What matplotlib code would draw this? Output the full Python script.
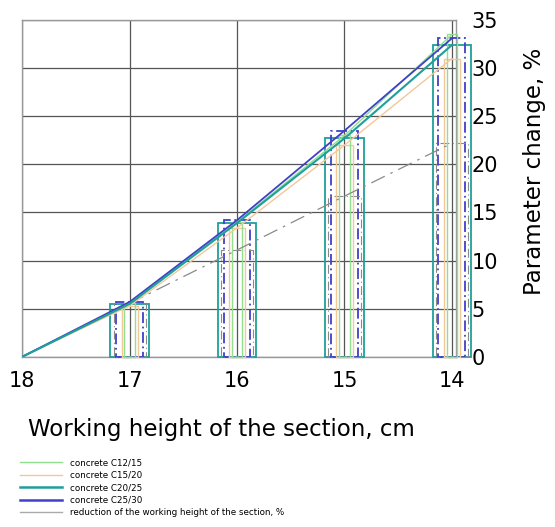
import matplotlib.pyplot as plt
from matplotlib.lines import Line2D

heights = [18, 17, 16, 15, 14]
bar_heights = [17, 16, 15, 14]

c12_15 = [0, 5.6, 14.0, 23.0, 33.5]
c15_20 = [0, 5.3, 13.4, 22.0, 31.0]
c20_25 = [0, 5.5, 13.9, 22.7, 32.4]
c25_30 = [0, 5.7, 14.2, 23.5, 33.1]
reduction = [0, 5.56, 11.1, 16.7, 22.2]

labels = ["concrete C12/15", "concrete C15/20", "concrete C20/25",
          "concrete C25/30", "reduction of the working height of the section, %"]

fig = plt.figure(figsize=(5.55, 5.27), dpi=100)
ax = fig.add_axes([0.040, 0.323, 0.782, 0.639])

# bars (outline only) for each group
bar_specs = [
    (c20_25, "#1f9f9a", 0.36, "-", 1.3),
    (c25_30, "#4040c8", 0.25, (0, (6, 2, 1, 2)), 1.3),
    (reduction, "#8a8a8a", 0.30, (0, (8, 3, 1, 3)), 0.8),
    (c15_20, "#f2c89a", 0.15, "-", 1.0),
    (c12_15, "#8fe08f", 0.10, "-", 1.0),
]
for vals, col, w, ls, lw in bar_specs:
    ax.bar(bar_heights, vals[1:], width=w, fill=False, edgecolor=col,
           linestyle=ls, linewidth=lw, clip_on=False, zorder=3)

# curves
ax.plot(heights, reduction, color="#8a8a8a", lw=0.9, ls=(0, (12, 5, 2, 5)), zorder=4)
ax.plot(heights, c15_20, color="#f2c89a", lw=1.0, zorder=4)
ax.plot(heights, c12_15, color="#8fe08f", lw=1.0, zorder=4)
ax.plot(heights, c25_30, color="#4040c8", lw=1.3, zorder=4)
ax.plot(heights, c20_25, color="#1f9f9a", lw=1.5, zorder=4)

ax.set_xlim(18, 13.96)
ax.set_ylim(0, 35)
ax.set_xticks(heights)
ax.set_xticklabels([str(h) for h in heights])
ax.set_yticks(range(0, 36, 5))
ax.yaxis.tick_right()
ax.yaxis.set_label_position("right")
ax.tick_params(length=0, labelsize=15)
ax.tick_params(axis="y", pad=11)
ax.tick_params(axis="x", pad=10)
ax.grid(True, color="#555555", lw=0.9)
ax.set_axisbelow(True)
for s in ax.spines.values():
    s.set_color("#999999")
    s.set_linewidth(1.0)

ax.set_xlabel("Working height of the section, cm", fontsize=16.5, labelpad=20)
ax.xaxis.label.set_x(0.46)
ax.set_ylabel("Parameter change, %", fontsize=16.5, labelpad=18)
ax.yaxis.label.set_y(0.55)

handles = [
    Line2D([], [], color="#8fe08f", lw=1.0),
    Line2D([], [], color="#f2c89a", lw=1.0),
    Line2D([], [], color="#1f9f9a", lw=1.8),
    Line2D([], [], color="#4040c8", lw=1.8),
    Line2D([], [], color="#aaaaaa", lw=1.0),
]
fig.legend(handles, labels, loc="upper left", bbox_to_anchor=(0.03, 0.137),
           frameon=False, fontsize=6.3, handlelength=4.8, labelspacing=0.4,
           handletextpad=0.9, borderaxespad=0)

fig.savefig("out.png", dpi=100)
